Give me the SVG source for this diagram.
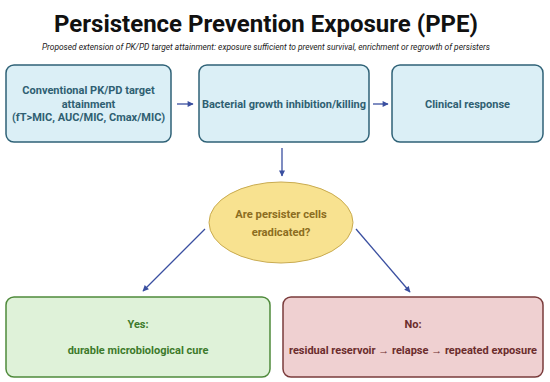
<svg xmlns="http://www.w3.org/2000/svg" width="550" height="382" viewBox="0 0 550 382">
<defs>
<marker id="ah" viewBox="0 0 10 10" refX="9" refY="5" markerWidth="7" markerHeight="6" markerUnits="userSpaceOnUse" orient="auto"><path d="M0,0 L10,5 L0,10 z" fill="#3a4fa0"/></marker>
<style>
text{font-family:Roboto,"Liberation Sans",sans-serif;text-anchor:middle}
.title{font-size:24px;font-weight:700;fill:#111}
.sub{font-size:8.4px;font-style:italic;fill:#222}
.blue rect{fill:#dbeff6;stroke:#2f6277;stroke-width:1.5}
.blue text{font-size:11px;font-weight:700;fill:#2f5f72}
.conn line{stroke:#3a4fa0;stroke-width:1.3;marker-end:url(#ah)}
</style>
</defs>
<rect width="550" height="382" fill="#fff"/>
<text class="title" x="266" y="32">Persistence Prevention Exposure (PPE)</text>
<text class="sub" x="266" y="50">Proposed extension of PK/PD target attainment: exposure sufficient to prevent survival, enrichment or regrowth of persisters</text>
<g id="n1" class="blue"><rect x="6" y="65" width="165" height="77" rx="8"/>
<text x="88.5" y="94">Conventional PK/PD target</text><text x="88.5" y="107.5">attainment</text><text x="88.5" y="121">(fT&gt;MIC, AUC/MIC, Cmax/MIC)</text></g>
<g id="n2" class="blue"><rect x="199" y="65" width="170" height="77" rx="8"/>
<text x="284" y="107.5">Bacterial growth inhibition/killing</text></g>
<g id="n3" class="blue"><rect x="392" y="65" width="151" height="77" rx="8"/>
<text x="467.5" y="107.5">Clinical response</text></g>
<g id="n4"><ellipse cx="281" cy="222.5" rx="72" ry="40.5" fill="#f8e290" stroke="#c9ab50" stroke-width="1"/>
<text x="281" y="218" font-size="11.2" font-weight="700" fill="#8c6d21">Are persister cells</text>
<text x="281" y="236" font-size="11.2" font-weight="700" fill="#8c6d21">eradicated?</text></g>
<g id="n5"><rect x="6" y="297" width="264" height="80" rx="8" fill="#dff2d9" stroke="#4f8a3b" stroke-width="1.5"/>
<text x="138" y="328" font-size="11" font-weight="700" fill="#3d7a2b">Yes:</text>
<text x="138" y="354" font-size="11" font-weight="700" fill="#3d7a2b">durable microbiological cure</text></g>
<g id="n6"><rect x="283" y="297" width="260" height="80" rx="8" fill="#efd0d1" stroke="#7a3b3b" stroke-width="1.5"/>
<text x="413" y="328" font-size="11" font-weight="700" fill="#6b2c2c">No:</text>
<text x="413" y="354" font-size="11" font-weight="700" fill="#6b2c2c">residual reservoir → relapse → repeated exposure</text></g>
<g id="connectors" class="conn">
<line x1="177" y1="104" x2="193" y2="104"/>
<line x1="373" y1="104" x2="388" y2="104"/>
<line x1="282" y1="148" x2="282" y2="176"/>
<line x1="205" y1="229" x2="143" y2="291"/>
<line x1="356" y1="229" x2="410" y2="292"/>
</g>
</svg>
